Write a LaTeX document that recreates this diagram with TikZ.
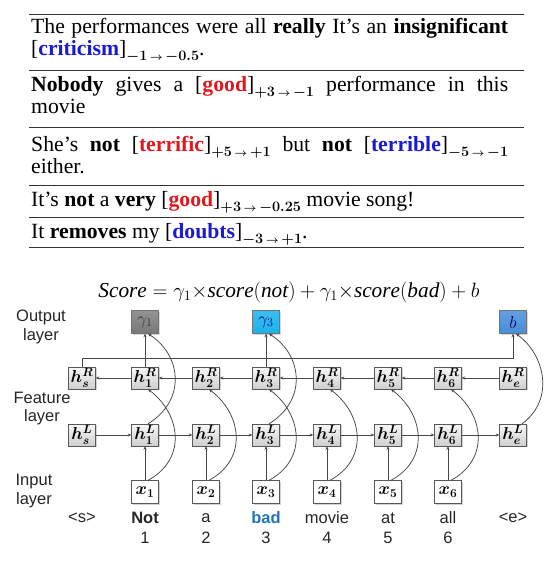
\documentclass[tikz,border=0pt]{standalone}
\usepackage{fontspec}
\setmainfont{Liberation Serif}
\newfontfamily\arialf{Liberation Sans}
\usepackage{amsmath}
\usetikzlibrary{shadows,arrows.meta}
\definecolor{posred}{RGB}{225,25,30}
\definecolor{negblue}{RGB}{25,25,215}
\definecolor{badblue}{RGB}{35,115,185}
\definecolor{gcyan}{RGB}{25,178,235}
\definecolor{gblue}{RGB}{72,142,218}
\definecolor{gdark}{RGB}{120,120,120}
\definecolor{rulec}{RGB}{50,50,50}
\tikzset{
  tabline/.style={anchor=base west, inner sep=0pt, font=\fontsize{21.7}{22}\selectfont},
  tabrule/.style={draw=rulec, line width=1pt},
  hidbox/.style={draw=black!65, top color=gray!6, bottom color=gray!38, minimum width=27pt, minimum height=22pt, inner sep=0pt, drop shadow={shadow xshift=1.2pt, shadow yshift=-1.2pt, opacity=0.35}, font=\fontsize{17}{17}\selectfont},
  inbox/.style={draw=black!65, fill=white, minimum width=27pt, minimum height=23pt, inner sep=0pt, drop shadow={shadow xshift=1.2pt, shadow yshift=-1.2pt, opacity=0.35}, font=\fontsize{18}{18}\selectfont},
  outbox/.style={draw=black!55, minimum width=27pt, minimum height=23pt, inner sep=0pt, drop shadow={shadow xshift=1.2pt, shadow yshift=-1.2pt, opacity=0.3}, font=\fontsize{18}{18}\selectfont},
  arr/.style={-{Stealth[length=3.5pt,width=3pt]}, draw=black!72, line width=0.75pt},
  layerf/.style={align=center, inner sep=0pt, text=black!85, font=\arialf\fontsize{16.5}{18.5}\selectfont},
  wordf/.style={inner sep=0pt, text=black!85, font=\arialf\fontsize{16.5}{18}\selectfont}
}
\newcommand{\subsc}[2]{\raisebox{-5pt}{\fontsize{15.5}{15.5}\selectfont\boldmath${#1}\,{\scriptstyle\rightarrow}\,{#2}$}}
\newcommand{\hR}[1]{{\boldmath$h^{R}_{#1}$}}
\newcommand{\hL}[1]{{\boldmath$h^{L}_{#1}$}}
\newcommand{\xin}[1]{{\boldmath$x_{#1}$}}
\begin{document}
\begin{tikzpicture}[x=1pt,y=-1pt]
\fill[white] (0,0) rectangle (553,563);
\useasboundingbox (0,0) rectangle (553,563);
% ---- table ----
\draw[tabrule] (29,14) -- (524,14);
\node[tabline] (t1a) at (31,33.5) {\makebox[477pt][s]{The performances were all \textbf{really} It’s an \textbf{insignificant}}};
\node[tabline] (t1b) at (31,55.5) {[\textcolor{negblue}{\textbf{criticism}}]\subsc{-1}{-0.5}.};
\draw[tabrule] (29,70) -- (524,70);
\node[tabline] (t2a) at (31,91) {\makebox[477pt][s]{\textbf{Nobody} gives a [\textcolor{posred}{\textbf{good}}]\subsc{+3}{-1} performance in this}};
\node[tabline] (t2b) at (31,113) {movie};
\draw[tabrule] (29,127) -- (524,127);
\node[tabline] (t3a) at (31,151) {\makebox[477pt][s]{She’s \textbf{not} [\textcolor{posred}{\textbf{terrific}}]\subsc{+5}{+1} but \textbf{not} [\textcolor{negblue}{\textbf{terrible}}]\subsc{-5}{-1}}};
\node[tabline] (t3b) at (31,173) {either.};
\draw[tabrule] (29,185.5) -- (524,185.5);
\node[tabline] (t4) at (31,206) {It’s \textbf{not} a \textbf{very} [\textcolor{posred}{\textbf{good}}]\subsc{+3}{-0.25} movie song!};
\draw[tabrule] (29,217) -- (524,217);
\node[tabline] (t5) at (31,238) {It \textbf{removes} my [\textcolor{negblue}{\textbf{doubts}}]\subsc{-3}{+1}.};
\draw[tabrule, line width=1.5pt] (29,247.5) -- (524,247.5);
% ---- equation ----
\node[inner sep=0pt, font=\fontsize{21.3}{21.3}\selectfont] (eq) at (289,292) {$\mathit{Score}=\gamma_1{\times}\mathit{score}(\mathit{not})+\gamma_1{\times}\mathit{score}(\mathit{bad})+b$};
% ---- layer labels ----
\node[layerf] (lout) at (41,327) {Output\\layer};
\node[layerf] (lfeat) at (42,408.5) {Feature\\layer};
\node[layerf] (lin) at (34,491) {Input\\layer};
% ---- output boxes ----
\node[outbox, top color=gdark!80, bottom color=gdark, text=black!80] (g1) at (145,322) {$\gamma_1$};
\node[outbox, top color=gcyan!85, bottom color=gcyan, text=blue!50!black] (g3) at (266,322) {$\gamma_3$};
\node[outbox, top color=gblue!85, bottom color=gblue, text=blue!40!black] (gb) at (513,322) {$b$};
% ---- hidden boxes ----
\node[hidbox] (Rs) at (82,378) {\hR{s}};
\node[hidbox] (R1) at (145,378) {\hR{1}};
\node[hidbox] (R2) at (206,378) {\hR{2}};
\node[hidbox] (R3) at (266,378) {\hR{3}};
\node[hidbox] (R4) at (327,378) {\hR{4}};
\node[hidbox] (R5) at (388,378) {\hR{5}};
\node[hidbox] (R6) at (448,378) {\hR{6}};
\node[hidbox] (Re) at (513,378) {\hR{e}};
\node[hidbox] (Ls) at (82,435) {\hL{s}};
\node[hidbox] (L1) at (145,435) {\hL{1}};
\node[hidbox] (L2) at (206,435) {\hL{2}};
\node[hidbox] (L3) at (266,435) {\hL{3}};
\node[hidbox] (L4) at (327,435) {\hL{4}};
\node[hidbox] (L5) at (388,435) {\hL{5}};
\node[hidbox] (L6) at (448,435) {\hL{6}};
\node[hidbox] (Le) at (513,435) {\hL{e}};
% ---- input boxes ----
\node[inbox] (x1) at (145,492) {\xin{1}};
\node[inbox] (x2) at (206,492) {\xin{2}};
\node[inbox] (x3) at (266,492) {\xin{3}};
\node[inbox] (x4) at (327,492) {\xin{4}};
\node[inbox] (x5) at (388,492) {\xin{5}};
\node[inbox] (x6) at (448,492) {\xin{6}};
% ---- words ----
\node[wordf] (ws) at (82,518) {<s>};
\node[wordf] (w1) at (145,518) {\textbf{Not}};
\node[wordf] (w2) at (206,518) {a};
\node[wordf, text=badblue] (w3) at (266,518) {\textbf{bad}};
\node[wordf] (w4) at (327,518) {movie};
\node[wordf] (w5) at (388,518) {at};
\node[wordf] (w6) at (448,518) {all};
\node[wordf] (we) at (513,518) {<e>};
\node[wordf] (n1) at (145,538) {1};
\node[wordf] (n2) at (206,538) {2};
\node[wordf] (n3) at (266,538) {3};
\node[wordf] (n4) at (327,538) {4};
\node[wordf] (n5) at (388,538) {5};
\node[wordf] (n6) at (448,538) {6};
% ---- chains ----
\draw[arr] (Ls) -- (L1);
\draw[arr] (L1) -- (L2);
\draw[arr] (L2) -- (L3);
\draw[arr] (L3) -- (L4);
\draw[arr] (L4) -- (L5);
\draw[arr] (L5) -- (L6);
\draw[arr] (L6) -- (Le);
\draw[arr] (Re) -- (R6);
\draw[arr] (R6) -- (R5);
\draw[arr] (R5) -- (R4);
\draw[arr] (R4) -- (R3);
\draw[arr] (R3) -- (R2);
\draw[arr] (R2) -- (R1);
\draw[arr] (R1) -- (Rs);
% ---- input connections ----
\foreach \k in {1,2,3,4,5,6} {
  \draw[arr] (x\k) -- (L\k);
  \draw[arr] ([xshift=3pt]x\k.north) .. controls +(39,-21) and +(33,25) .. ([xshift=3pt]R\k.south);
}
% ---- output connections ----
\draw[arr] (R1) -- (g1);
\draw[arr] (R3) -- (g3);
\draw[arr] ([xshift=3pt]L1.north) .. controls +(39,-24) and +(33,21) .. ([xshift=3pt]g1.south);
\draw[arr] ([xshift=3pt]L3.north) .. controls +(39,-24) and +(33,21) .. ([xshift=3pt]g3.south);
\draw[arr] ([xshift=9pt]Le.north) .. controls +(33,-24) and +(29,21) .. ([xshift=3pt]gb.south);
\draw[arr] (Rs.north) -- ++(0,-8) -| (gb.south);
\end{tikzpicture}
\end{document}
